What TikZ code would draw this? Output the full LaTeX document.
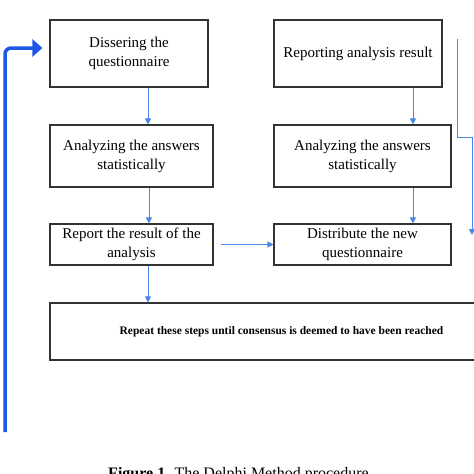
\documentclass[tikz,border=0pt]{standalone}
\usepackage{amsmath}
\usepackage{amssymb}
\usepackage{fontspec}
\setmainfont{Liberation Serif}
\usetikzlibrary{arrows.meta}
\definecolor{flowblue}{RGB}{74,134,232}
\definecolor{loopblue}{RGB}{32,86,228}

\begin{document}
\begin{tikzpicture}[x=1pt,y=-1pt,
  stepbox/.style={draw=black!80,line width=1.1pt,align=center,inner sep=0pt,
    font=\fontsize{15}{19}\selectfont},
  flow/.style={draw=flowblue,line width=1pt,-{Triangle[width=6pt,length=6pt]}},
  backloop/.style={draw=loopblue,line width=3.5pt,rounded corners=6pt,
    -{Triangle[width=17pt,length=10pt]}}]
\useasboundingbox (0,0) rectangle (474,474);
\node[stepbox,minimum width=158pt,minimum height=67pt] (dissem) at (129,53.5) {Dissering the\\questionnaire};
\node[stepbox,minimum width=163pt,minimum height=62pt] (analyze1) at (131.5,156) {Analyzing the answers\\statistically};
\node[stepbox,minimum width=163pt,minimum height=41pt] (report1) at (131.5,244.5) {Report the result of the\\analysis};
\node[stepbox,minimum width=168pt,minimum height=67pt] (report2) at (358,53.5) {Reporting analysis result};
\node[stepbox,minimum width=177pt,minimum height=62pt] (analyze2) at (362.5,156) {Analyzing the answers\\statistically};
\node[stepbox,minimum width=177pt,minimum height=41pt] (distrib) at (362.5,244.5) {Distribute the new\\questionnaire};
\node[stepbox,minimum width=463pt,minimum height=57pt,font=\fontsize{11.5}{14}\selectfont\bfseries] (repeat) at (281.5,331.5) {Repeat these steps until consensus is deemed to have been reached};
\node[anchor=base,font=\fontsize{16}{19}\selectfont] (caption) at (238.5,478) {\textbf{Figure 1.} The Delphi Method procedure};
% arrows down the left column
\draw[flow] ([xshift=19pt]dissem.south) -- ([xshift=19pt]dissem.south |- analyze1.north);
\draw[flow] ([xshift=17.5pt]analyze1.south) -- ([xshift=17.5pt]analyze1.south |- report1.north);
\draw[flow] ([xshift=16.5pt]report1.south) -- ([xshift=16.5pt]report1.south |- repeat.north);
% arrows down the right column
\draw[flow] ([xshift=55pt]report2.south) -- ([xshift=55pt]report2.south |- analyze2.north);
\draw[flow] ([xshift=50.5pt]analyze2.south) -- ([xshift=50.5pt]analyze2.south |- distrib.north);
\draw[flow] ([xshift=7pt]report1.east) -- (distrib.west);
% line at the right edge
\coordinate (edgetop) at (457,39);
\coordinate (edgebend) at (472,137);
\coordinate (edgeend) at (472,235);
\draw[flow] (edgetop) |- (edgebend) -- (edgeend);
% back loop
\coordinate (loopfoot) at (5,432);
\draw[backloop] (loopfoot) |- ([shift={(-7pt,5.5pt)}]dissem.west);
\end{tikzpicture}
\end{document}
